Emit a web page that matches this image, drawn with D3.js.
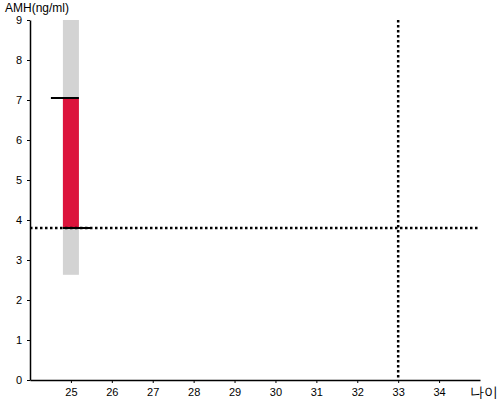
<!DOCTYPE html>
<html><head><meta charset="utf-8">
<script src="https://cdn.jsdelivr.net/npm/d3@7"></script>
<style>body{margin:0;background:#fff}svg{display:block}text{font-family:"Liberation Sans",Arial,sans-serif}</style>
</head><body>
<script>
const xTicks = [25,26,27,28,29,30,31,32,33,34];
const yTicks = [0,1,2,3,4,5,6,7,8,9];
const age = [25];
const rangeLow = [2.63];
const rangeHigh = [9];
const amhValue = [7.05];
const avgValue = [3.8];
const refAge = [33];
const refAmh = [3.8];

const W=500,H=400;
const svg=d3.select("body").append("svg").attr("width",W).attr("height",H);
const x=d3.scaleLinear().domain([24,35]).range([30,480]);
const y=d3.scaleLinear().domain([0,9]).range([380,20]);

svg.selectAll("rect.range").data(age).join("rect").attr("class","range")
  .attr("x",(d)=>x(d)-8).attr("width",16)
  .attr("y",(d,i)=>y(rangeHigh[i])).attr("height",(d,i)=>y(rangeLow[i])-y(rangeHigh[i]))
  .attr("fill","#d3d3d3");
svg.selectAll("rect.val").data(age).join("rect").attr("class","val")
  .attr("x",(d)=>x(d)-8).attr("width",16)
  .attr("y",(d,i)=>y(amhValue[i])).attr("height",(d,i)=>y(avgValue[i])-y(amhValue[i]))
  .attr("fill","#dc143c");

svg.append("line").attr("x1",x(24)).attr("x2",x(35)).attr("y1",y(refAmh[0])).attr("y2",y(refAmh[0]))
  .attr("stroke","#000").attr("stroke-width",2.5).attr("stroke-dasharray","2.5,2.5");
svg.append("line").attr("x1",x(refAge[0])).attr("x2",x(refAge[0])).attr("y1",y(9)).attr("y2",y(0))
  .attr("stroke","#000").attr("stroke-width",2.5).attr("stroke-dasharray","2.5,2.5");

svg.selectAll("line.top").data(age).join("line").attr("class","top")
  .attr("x1",d=>x(d)-20).attr("x2",d=>x(d)+8)
  .attr("y1",(d,i)=>y(amhValue[i])).attr("y2",(d,i)=>y(amhValue[i]))
  .attr("stroke","#000").attr("stroke-width",2);
svg.selectAll("line.bot").data(age).join("line").attr("class","bot")
  .attr("x1",d=>x(d)-8).attr("x2",d=>x(d)+20)
  .attr("y1",(d,i)=>y(avgValue[i])).attr("y2",(d,i)=>y(avgValue[i]))
  .attr("stroke","#000").attr("stroke-width",2);

const xa=svg.append("g").attr("transform","translate(0,380)")
  .call(d3.axisBottom(x).tickValues(xTicks).tickSize(3).tickSizeOuter(0).tickFormat(d3.format("d")));
const ya=svg.append("g").attr("transform","translate(30,0)")
  .call(d3.axisLeft(y).tickValues(yTicks).tickSize(3).tickSizeOuter(0).tickFormat(d3.format("d")));
[xa,ya].forEach(g=>{g.select(".domain").attr("stroke","#000").attr("stroke-width",1.5);
  g.selectAll("text").attr("font-size",11).attr("font-family","Liberation Sans, Arial, sans-serif").attr("fill","#000");});
xa.selectAll("text").attr("dy","0.9em");
ya.selectAll("text").attr("dx","-2");

svg.append("text").attr("x",5).attr("y",12).attr("font-size",12).text("AMH(ng/ml)");
svg.append("text").attr("x",498).attr("y",397).attr("text-anchor","end").attr("font-size",14)
  .attr("font-family","'Noto Sans CJK KR', sans-serif").text("나이");
</script>
</body></html>
